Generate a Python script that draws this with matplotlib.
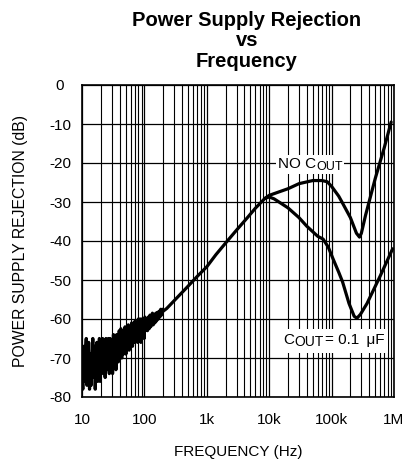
import matplotlib
matplotlib.use("Agg")
import matplotlib.pyplot as plt
from matplotlib.patches import Rectangle
from matplotlib.transforms import Bbox, IdentityTransform
from matplotlib.ticker import FixedLocator, NullFormatter

plt.rcParams["font.family"] = ["Liberation Sans", "DejaVu Sans"]

# -- Data -------------------------------------------------------------------
# noisy low-frequency part, shared by both curves
NOISE_F = [10, 10.3, 10.6, 11, 11.3, 11.7, 12, 12.4, 12.8, 13.2,
           13.6, 14, 14.4, 14.9, 15.3, 15.8, 16.3, 16.8, 17.3, 17.8,
           18.4, 19, 19.5, 20.1, 20.8, 21.4, 22.1, 22.8, 23.5, 24.2,
           25, 25.7, 26.5, 27.4, 28.2, 29.1, 30, 30.9, 31.9, 32.9,
           33.9, 35, 36, 37.2, 38.3, 39.5, 40.7, 42, 43.3, 44.7,
           46, 47.5, 49, 50.5, 52, 53.7, 55.3, 57, 58.8, 60.7,
           62.5, 64.5, 66.5, 68.5, 70.7, 72.9, 75.1, 77.5, 79.9, 82.4,
           84.9, 87.6, 90.3, 93.1, 96, 99, 102, 105, 108.5, 112,
           115.4, 119, 122.7, 126.5, 130.5, 134.5, 138.7, 143, 147.5, 152,
           156.8, 161.7, 166.7, 171.9, 177.2, 182.7, 188.4, 194.3, 200]
NOISE_DB = [-72, -78, -67, -76, -70, -65, -77, -71, -66, -78,
            -69, -77, -71, -65, -75, -67, -78, -70, -66, -76,
            -71, -65, -76, -68, -74, -65, -72, -67, -75, -65,
            -73, -68, -65, -74, -65, -71, -67, -74, -64, -70,
            -66, -73, -64, -69, -71, -63, -68, -62.5, -70, -64,
            -69, -63, -62, -69, -63, -67, -61.5, -68, -63, -67,
            -61, -67, -62, -66, -60.5, -65.5, -62, -66, -60, -64,
            -60, -66, -60, -64, -61, -65, -59.5, -63, -60.5, -63,
            -59.5, -62.5, -59, -62, -60, -58.5, -61.5, -59, -61, -58.5,
            -60.5, -58.3, -60, -58, -59.5, -57.5, -59, -57.5, -58]

# smooth rising part up to the split near 10 kHz
RISE_F = [228, 300, 500, 700, 1000, 1400, 2080, 3000, 4370, 6000, 8500]
RISE_DB = [-57.3, -55.3, -51.6, -49.1, -46.6, -43.5, -40.2, -37.2, -34.2,
           -31.6, -29.1]

# C_OUT = 0.1 uF branch
COUT_F = [10e3, 12e3, 15e3, 20e3, 30e3, 40e3, 60e3, 73e3, 88e3, 105e3,
          130e3, 150e3, 190e3, 230e3, 255e3, 290e3, 370e3, 600e3, 950e3]
COUT_DB = [-28.7, -29.2, -30.2, -31.5, -34, -36.2, -38.8, -39.5, -41.5,
           -44.5, -48, -50.5, -56, -59.3, -59.8, -58.8, -56, -49, -42]

# no C_OUT branch
NOC_F = [10e3, 15e3, 20e3, 30e3, 50e3, 70e3, 85e3, 100e3, 130e3, 150e3,
         200e3, 250e3, 280e3, 300e3, 350e3, 500e3, 700e3, 900e3]
NOC_DB = [-28.3, -27.3, -26.6, -25.3, -24.5, -24.5, -24.8, -26, -28.5,
          -30.3, -34, -38, -39, -38, -33.4, -24, -16, -9.5]

X_TICKS = [10, 100, 1e3, 1e4, 1e5, 1e6]
X_LABELS = ["10", "100", "1k", "10k", "100k", "1M"]
Y_TICKS = [0, -10, -20, -30, -40, -50, -60, -70, -80]
X_MINOR = [m * d for d in [10, 100, 1e3, 1e4, 1e5] for m in range(2, 10)]

TITLE_LINES = ["Power Supply Rejection", "vs", "Frequency"]

# -- Figure -----------------------------------------------------------------
W, H = 416, 462
fig = plt.figure(figsize=(W / 100, H / 100), dpi=100)
ax = fig.add_axes([82 / W, 1 - 397 / H, (394 - 82) / W, (397 - 85) / H])

common_f = NOISE_F + RISE_F
common_db = NOISE_DB + RISE_DB
style = dict(color="black", lw=2.3, solid_joinstyle="round",
             solid_capstyle="round", zorder=3)
ax.plot(common_f, common_db, **style)
ax.plot([common_f[-1]] + COUT_F, [common_db[-1]] + COUT_DB, **style)
ax.plot([common_f[-1]] + NOC_F, [common_db[-1]] + NOC_DB, **style)

ax.set_xscale("log")
ax.set_xlim(10, 1e6)
ax.set_ylim(-80, 0)
ax.set_xticks(X_TICKS)
ax.set_xticklabels(X_LABELS)
ax.xaxis.set_minor_locator(FixedLocator(X_MINOR))
ax.xaxis.set_minor_formatter(NullFormatter())
ax.set_yticks(Y_TICKS)
ax.set_yticklabels([str(v) for v in Y_TICKS])
ax.tick_params(which="both", length=0, labelsize=11)
ax.tick_params(axis="x", pad=11.5)
ax.tick_params(axis="y", pad=15.8)
for lab in ax.get_yticklabels():
    lab.set_horizontalalignment("center")

ax.grid(which="major", color="black", lw=0.9)
ax.grid(which="minor", axis="x", color="black", lw=0.8)
ax.set_axisbelow(True)
for s in ax.spines.values():
    s.set_color("black")
    s.set_linewidth(1.2)

fig.text(238 / W, 1 - 452 / H, "FREQUENCY (Hz)", fontsize=11,
         ha="center", va="center")
fig.text(21 / W, 1 - 241 / H, "POWER SUPPLY REJECTION (dB)", fontsize=11.3,
         rotation=90, ha="center", va="center")


# curve labels: main text, lowered subscript, optional tail, on a white box
def sub_label(x, y, main, sub, tail="", sub_size=9.5, pad=2.0):
    t1 = ax.text(x, y, main, fontsize=11, ha="left", va="baseline", zorder=4)
    t2 = ax.annotate(sub, xy=(1, 0), xycoords=t1, xytext=(0, -1.6),
                     textcoords="offset points", fontsize=sub_size,
                     ha="left", va="bottom", zorder=4)
    parts = [t1, t2]
    if tail:
        t3 = ax.annotate(tail, xy=(1, 0), xycoords=(t2, t1),
                         xytext=(1, 0), textcoords="offset points",
                         fontsize=11, ha="left", va="bottom", zorder=4)
        parts.append(t3)
    return parts, pad


labels = [sub_label(1.38e4, -21.2, "NO C", "OUT", sub_size=9, pad=1.5),
          sub_label(1.66e4, -66.4, "C", "OUT", "= 0.1 \u2009\u03bcF",
                    sub_size=10, pad=4.0)]

fig.canvas.draw()
renderer = fig.canvas.get_renderer()
for parts, pad in labels:
    bb = Bbox.union([p.get_window_extent(renderer) for p in parts])
    ax.add_patch(Rectangle((bb.x0 - pad, bb.y0 - pad), bb.width + 2 * pad,
                           bb.height + 2 * pad, transform=IdentityTransform(),
                           facecolor="white", edgecolor="none", zorder=2))

for i, line in enumerate(TITLE_LINES):
    fig.text(247 / W, 1 - (26 + 20.5 * i) / H, line, fontsize=14.5,
             fontweight="bold", ha="center", va="baseline")

fig.savefig("out.png", dpi=100, facecolor="white")
